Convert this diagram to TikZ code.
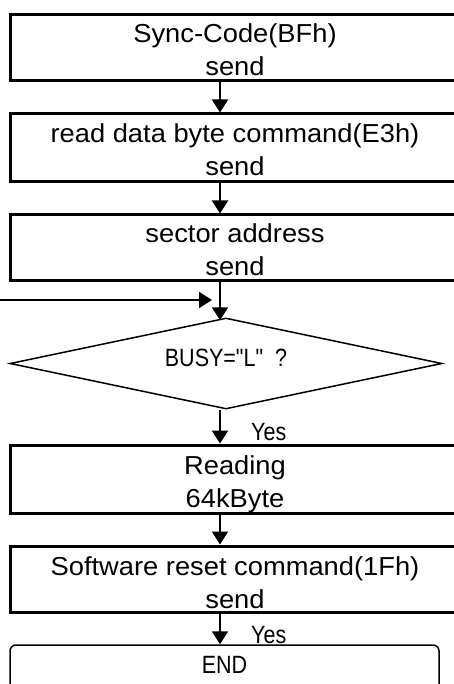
\documentclass[tikz,border=0pt]{standalone}
\usepackage{fontspec}
\setmainfont{Liberation Sans}
\newfontfamily\boxfont[FakeStretch=1.05]{Liberation Sans}
\newfontfamily\narrowfont[FakeStretch=0.86]{Liberation Sans}
\usetikzlibrary{shapes.geometric,arrows.meta}
\tikzset{
  procbox/.style={draw, line width=3pt, rectangle, inner sep=0pt,
    minimum width=450pt, align=center, text height=56pt, text depth=0pt,
    font=\boxfont\fontsize{26}{33}\selectfont},
  decbox/.style={draw, line width=1.5pt, diamond, aspect=4.75, inner sep=0pt,
    minimum width=432pt, minimum height=91pt, text height=19pt, text depth=14pt,
    font=\narrowfont\fontsize{25}{30}\selectfont},
  endbox/.style={draw, line width=1.5pt, rectangle, rounded corners=6pt,
    inner sep=0pt, minimum width=429pt, minimum height=65pt,
    text height=18pt, text depth=27pt,
    font=\narrowfont\fontsize{25}{30}\selectfont},
  yeslabel/.style={anchor=base west, inner sep=0pt,
    font=\narrowfont\fontsize{25}{30}\selectfont},
  flow/.style={line width=2pt, -{Triangle[length=13pt,width=16pt]}},
}
\begin{document}
\begin{tikzpicture}[x=1pt,y=-1pt]
\useasboundingbox (0,0) rectangle (454,684);
\node[procbox, minimum height=66pt] (b1) at (235,48) {Sync-Code(BFh)\\send};
\node[procbox, minimum height=68pt] (b2) at (235,148) {read data byte command(E3h)\\send};
\node[procbox, minimum height=65pt] (b3) at (235,247.5) {sector address\\send};
\node[decbox] (d) at (226,363.5) {BUSY="L"\ \ ?};
\node[procbox, minimum height=68pt] (b4) at (235,479) {Reading\\64kByte};
\node[procbox, minimum height=66pt, text height=58pt] (b5) at (235,579) {Software reset command(1Fh)\\send};
\node[endbox] (e) at (224.5,677.5) {END};
\coordinate (col) at (220,0);
\coordinate (in) at (0,300);
\coordinate (inend) at (212,300);
\draw[flow] (col |- b1.south) -- (col |- b2.north);
\draw[flow] (col |- b2.south) -- (col |- b3.north);
\draw[flow] (col |- b3.south) -- ([yshift=-3pt]col |- d.north);
\draw[flow] (in) -- (inend);
\draw[flow] (col |- d.south) -- (col |- b4.north);
\draw[flow] (col |- b4.south) -- (col |- b5.north);
\draw[flow] (col |- b5.south) -- (col |- e.north);
\node[yeslabel] (y1) at (251,440) {Yes};
\node[yeslabel] (y2) at (251,643) {Yes};
\end{tikzpicture}
\end{document}
